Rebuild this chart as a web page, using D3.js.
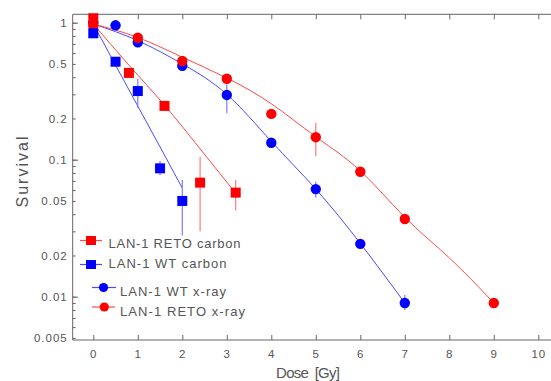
<!DOCTYPE html>
<html><head><meta charset="utf-8">
<script src="https://cdn.jsdelivr.net/npm/d3@7"></script>
<style>
body{margin:0;background:#fff}
svg{display:block}
text{font-family:"Liberation Sans",Arial,sans-serif;fill:#555}
</style>
</head><body>
<svg id="chart" width="551" height="381"></svg>
<script>
// ---- data ----
const xTickValues = [0,1,2,3,4,5,6,7,8,9,10];
const yTickLabels = [1,0.5,0.2,0.1,0.05,0.02,0.01,0.005];
const yMajorTicks = [1,0.1,0.01];

// measured points
const wtXrayDose = [0,0.5,1,2,3,4,5,6,7];
const wtXraySurv = [1.0,0.957,0.72,0.485,0.297,0.133,0.061,0.0243,0.0090];
const wtXrayLo   = [null,null,null,null,0.218,null,0.053,null,0.0080];
const wtXrayHi   = [null,null,null,null,0.355,null,0.069,null,0.0103];

const retoXrayDose = [0,1,2,3,4,5,6,7,9];
const retoXraySurv = [0.946,0.777,0.525,0.39,0.216,0.146,0.0817,0.0369,0.0090];
const retoXrayLo   = [null,null,null,null,null,0.106,null,null,0.0084];
const retoXrayHi   = [null,null,null,null,null,0.186,null,null,0.0090];

const wtCarbonDose = [0,0.5,1,1.5,2];
const wtCarbonSurv = [0.837,0.519,0.317,0.0865,0.050];
const wtCarbonLo   = [null,null,0.238,0.077,0.028];
const wtCarbonHi   = [null,null,0.388,0.098,0.071];

const retoCarbonDose = [0,0.8,1.6,2.4,3.2];
const retoCarbonSurv = [1.077,0.43,0.247,0.068,0.0575];
const retoCarbonLo   = [null,null,null,0.030,0.0425];
const retoCarbonHi   = [null,null,null,0.105,0.071];

// fitted curves
const wtXrayFitDose = [0,1,2,3,4,5,6,7];
const wtXrayFitSurv = [0.98,0.74,0.50,0.30,0.136,0.061,0.0245,0.0090];
const retoXrayFitDose = [0,1,2,3,4,5,6,7,8,9];
const retoXrayFitSurv = [0.98,0.78,0.56,0.395,0.256,0.147,0.083,0.038,0.0192,0.0090];
const wtCarbonFitDose = [0,0.5,1,1.5,2];
const wtCarbonFitSurv = [0.98,0.49,0.246,0.124,0.062];
const retoCarbonFitDose = [0,0.8,1.6,2.4,3.2];
const retoCarbonFitSurv = [0.98,0.49,0.25,0.12,0.057];

const legendLabels = ["LAN-1 RETO carbon","LAN-1 WT carbon","LAN-1 WT x-ray","LAN-1 RETO x-ray"];

// ---- layout ----
const svg = d3.select("#chart");
const axisLeftX = 72.7, axisTopY = 14.3, axisBottomY = 340, rightEdge = 551;
const x = d3.scaleLinear().domain([0,10]).range([93.3,538.3]);
const y = d3.scaleLog().domain([1,0.01]).range([22.7,296.7]);
const axisColor = "#666";

const red = "#ff0000", blue = "#0000ff";
const redLine = "#ff4a4a", blueLine = "#4a4aff";
const redErr = "#ff7a7a", blueErr = "#7a7aff";

// frame lines
svg.append("line").attr("x1",axisLeftX).attr("x2",axisLeftX).attr("y1",axisTopY).attr("y2",axisBottomY).attr("stroke",axisColor);
svg.append("line").attr("x1",axisLeftX).attr("x2",rightEdge).attr("y1",axisTopY).attr("y2",axisTopY).attr("stroke",axisColor);
svg.append("line").attr("x1",axisLeftX).attr("x2",rightEdge).attr("y1",axisBottomY).attr("y2",axisBottomY).attr("stroke",axisColor);

// x axes
const gxB = svg.append("g").attr("transform",`translate(0,${axisBottomY})`)
  .call(d3.axisBottom(x).tickValues(xTickValues).tickSize(-5).tickPadding(10).tickFormat(d3.format("d")));
const gxT = svg.append("g").attr("transform",`translate(0,${axisTopY})`)
  .call(d3.axisTop(x).tickValues(xTickValues).tickSize(-5).tickFormat(""));
// y axis minor ticks
const allYTicks = y.copy().domain([0.005,1]).ticks();
const gyMinor = svg.append("g").attr("transform",`translate(${axisLeftX},0)`)
  .call(d3.axisLeft(y).tickValues(allYTicks).tickSize(-3).tickFormat(""));
const gyMajor = svg.append("g").attr("transform",`translate(${axisLeftX},0)`)
  .call(d3.axisLeft(y).tickValues(yMajorTicks).tickSize(-5.5).tickFormat(""));
const gyLab = svg.append("g").attr("transform",`translate(${axisLeftX},0)`)
  .call(d3.axisLeft(y).tickValues(yTickLabels).tickSize(0).tickPadding(5).tickFormat(d => String(d)));
[gxB,gxT,gyMinor,gyMajor,gyLab].forEach(g=>{
  g.select(".domain").remove();
  g.selectAll(".tick line").attr("stroke",axisColor);
  g.selectAll("text").attr("font-size",11.5).attr("fill","#555").style("letter-spacing","1px")
    .attr("font-family",'"Liberation Sans",Arial,sans-serif');
});

// axis titles
svg.append("text").attr("x",308).attr("y",378).attr("text-anchor","middle")
  .attr("font-size",15).attr("textLength",64).attr("lengthAdjust","spacing").style("word-spacing","3px").text("Dose [Gy]");
svg.append("text").attr("transform","translate(28,172) rotate(-90)").attr("text-anchor","middle")
  .attr("font-size",16).attr("textLength",71).attr("lengthAdjust","spacing").text("Survival");

// fit curves
const line = d3.line().x(d=>x(d[0])).y(d=>y(d[1])).curve(d3.curveNatural);
function fit(ds, ss, col){
  svg.append("path").datum(ds.map((d,i)=>[d,ss[i]])).attr("d",line)
    .attr("fill","none").attr("stroke",col).attr("stroke-width",1);
}
fit(wtXrayFitDose,wtXrayFitSurv,blueLine);
fit(retoXrayFitDose,retoXrayFitSurv,redLine);
fit(wtCarbonFitDose,wtCarbonFitSurv,blueLine);
fit(retoCarbonFitDose,retoCarbonFitSurv,redLine);

// error bars
function errs(ds, lo, hi, col){
  ds.forEach((d,i)=>{
    if(lo[i]==null) return;
    svg.append("line").attr("x1",x(d)).attr("x2",x(d)).attr("y1",y(hi[i])).attr("y2",y(lo[i]))
      .attr("stroke",col).attr("stroke-width",1.2);
  });
}
errs(wtXrayDose,wtXrayLo,wtXrayHi,blueErr);
errs(retoXrayDose,retoXrayLo,retoXrayHi,redErr);
errs(wtCarbonDose,wtCarbonLo,wtCarbonHi,blueErr);
errs(retoCarbonDose,retoCarbonLo,retoCarbonHi,redErr);

// markers
function circles(ds, ss, col){
  svg.append("g").selectAll("circle").data(ds.map((d,i)=>[d,ss[i]])).join("circle")
    .attr("cx",d=>x(d[0])).attr("cy",d=>y(d[1])).attr("r",5.2).attr("fill",col);
}
function squares(ds, ss, col){
  const s = 10;
  svg.append("g").selectAll("rect").data(ds.map((d,i)=>[d,ss[i]])).join("rect")
    .attr("x",d=>x(d[0])-s/2).attr("y",d=>y(d[1])-s/2).attr("width",s).attr("height",s).attr("fill",col);
}
circles(wtXrayDose,wtXraySurv,blue);
circles(retoXrayDose,retoXraySurv,red);
squares(wtCarbonDose,wtCarbonSurv,blue);
squares(retoCarbonDose,retoCarbonSurv,red);

// legend
const legend = [
  {label:legendLabels[0], col:red, lc:redLine, shape:"sq", mx:91, my:240.5, l1:80, l2:102, tx:108.5, ty:247.7, tl:132},
  {label:legendLabels[1], col:blue, lc:blueLine, shape:"sq", mx:91, my:264.5, l1:80, l2:102, tx:108.5, ty:268.3, tl:118},
  {label:legendLabels[2], col:blue, lc:blueLine, shape:"ci", mx:103.5, my:287.5, l1:92, l2:116, tx:120, ty:296, tl:106},
  {label:legendLabels[3], col:red, lc:redLine, shape:"ci", mx:104.3, my:307, l1:92, l2:115, tx:120, ty:315.7, tl:125}
];
legend.forEach(e=>{
  svg.append("line").attr("x1",e.l1).attr("x2",e.l2).attr("y1",e.my).attr("y2",e.my).attr("stroke",e.lc).attr("stroke-width",1.2);
  if(e.shape==="sq") svg.append("rect").attr("x",e.mx-5).attr("y",e.my-4.5).attr("width",10).attr("height",9).attr("fill",e.col);
  else svg.append("circle").attr("cx",e.mx).attr("cy",e.my).attr("r",4.6).attr("fill",e.col);
  svg.append("text").attr("x",e.tx).attr("y",e.ty).attr("font-size",13).attr("textLength",e.tl)
    .attr("lengthAdjust","spacing").text(e.label);
});
</script>
</body></html>
